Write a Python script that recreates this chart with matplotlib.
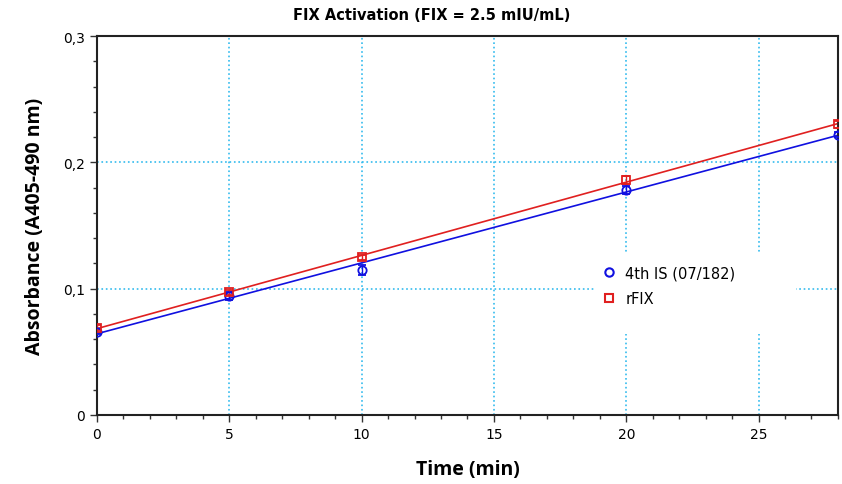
import numpy as np
import matplotlib.pyplot as plt
from matplotlib.ticker import MultipleLocator, FuncFormatter
from matplotlib.lines import Line2D
from matplotlib.patches import Rectangle

# data
time_min = [0, 5, 10, 20, 28]
is_abs = [0.066, 0.094, 0.115, 0.178, 0.222]
rfix_abs = [0.069, 0.097, 0.125, 0.186, 0.230]
is_err = [0.002, 0.003, 0.004, 0.003, 0.002]
rfix_err = [0.002, 0.002, 0.002, 0.003, 0.003]

series = [
    ("4th IS (07/182)", is_abs, is_err, "#1010e0", "o"),
    ("rFIX", rfix_abs, rfix_err, "#e02020", "s"),
]

fig = plt.figure(figsize=(8.42, 4.85), dpi=100)
ax = fig.add_axes([0.1152, 0.1423, 0.88, 0.7814])

xs = np.array(time_min)
handles = []
for label, y, err, col, mk in series:
    ax.errorbar(xs, y, yerr=err, fmt=mk, mfc="none", mec=col, ecolor=col,
                ms=6, mew=1.3, capsize=3, elinewidth=1, zorder=3)
    k, b = np.polyfit(xs, y, 1)
    ax.plot([0, 28], [b, b + 28 * k], color=col, lw=1.2, zorder=2)
    handles.append(Line2D([], [], ls="none", marker=mk, mfc="none", mec=col,
                          ms=6, mew=1.5, label=label))

ax.set_xlim(0, 28)
ax.set_ylim(0, 0.3)
ax.xaxis.set_major_locator(MultipleLocator(5))
ax.xaxis.set_minor_locator(MultipleLocator(1))
ax.yaxis.set_major_locator(MultipleLocator(0.1))
ax.yaxis.set_minor_locator(MultipleLocator(0.02))
ax.yaxis.set_major_formatter(FuncFormatter(
    lambda v, p: "0" if abs(v) < 1e-9 else ("%.1f" % v).replace(".", ",")))
ax.tick_params(which="major", length=5, width=1, labelsize=10, color="#333333")
ax.tick_params(which="minor", length=3, width=1, color="#333333")
ax.grid(True, which="major", color="#33bbee", linestyle=":", linewidth=1.2)
for s in ax.spines.values():
    s.set_color("#222222")
    s.set_linewidth(1.5)

# title sits left of the axes centre in the original
fig.text(432 / 842, 1 - 16 / 485, "FIX Activation (FIX = 2.5 mIU/mL)",
         ha="center", va="center", fontsize=10.5, fontweight="bold",
         family=["Liberation Sans Narrow", "DejaVu Sans"])
ax.set_xlabel("Time (min)", fontsize=14, fontweight="bold",
              family=["Open Sans", "DejaVu Sans"], labelpad=13)
ax.set_ylabel("Absorbance (A405-490 nm)", fontsize=14, fontweight="bold",
              family=["Open Sans", "DejaVu Sans"], labelpad=13)

# white legend area hides the grid behind it
ax.add_patch(Rectangle((596 / 842, 1 - 335 / 485), 200 / 842, 82 / 485,
                       transform=fig.transFigure, facecolor="white",
                       edgecolor="none", zorder=1.8))
leg = ax.legend(handles=handles, loc="center left",
                bbox_to_anchor=(589 / 842, 1 - 287 / 485),
                bbox_transform=fig.transFigure, frameon=False, fontsize=10.5,
                handletextpad=0.5, handlelength=1.2, borderpad=0.3,
                labelspacing=0.75)

fig.savefig("out.png", dpi=100)
